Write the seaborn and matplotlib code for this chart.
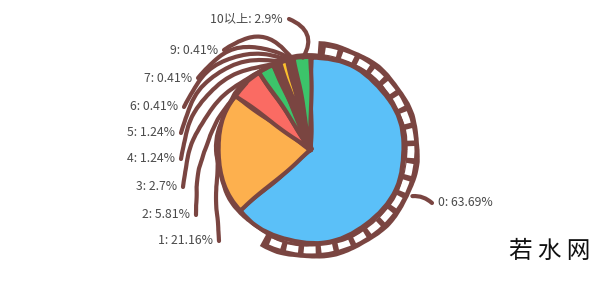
import numpy as np
import matplotlib
matplotlib.use("Agg")
import matplotlib.pyplot as plt
from matplotlib.patches import Arc
import seaborn as sns

categories = ["0", "1", "2", "3", "4", "5", "6", "7", "9", "10以上"]
values = [63.69, 21.16, 5.81, 2.7, 1.24, 1.24, 0.41, 0.41, 0.41, 2.9]
pct_labels = ["63.69%", "21.16%", "5.81%", "2.7%", "1.24%", "1.24%", "0.41%", "0.41%", "0.41%", "2.9%"]
colors = ["#5bc0f8", "#fdb04e", "#fa6b63", "#3cc46a", "#7a4541", "#fcc02d",
          "#7a4541", "#7a4541", "#7a4541", "#3cc46a"]

sns.set_theme(style="white")
plt.rcParams['font.family'] = ['Noto Sans CJK SC', 'DejaVu Sans']

BROWN = "#7a4541"
W, H = 600, 281
cx, cy, R = 311, 150, 93  # pixel center and radius
fig = plt.figure(figsize=(6, 2.81), dpi=100)
ax = fig.add_axes([0, 0, 1, 1])

def px(x, y):
    return ((x - cx) / R, (cy - y) / R)

# outer striped ring around the big slice
ring = Arc((0, 0), 2.19, 2.19, theta1=-118, theta2=86, lw=10, color=BROWN)
ring.set_sketch_params(scale=0.6, length=60, randomness=2)
ax.add_patch(ring)
ring2 = Arc((0, 0), 2.15, 2.15, theta1=-114, theta2=82, lw=5, color="white",
            linestyle=(0, (1.7, 0.8)))
ax.add_patch(ring2)

wedges, _ = ax.pie(values, colors=colors, startangle=90, counterclock=False,
                   radius=1.0, wedgeprops=dict(edgecolor=BROWN, linewidth=3,
                                               joinstyle="round"))
for w in wedges:
    w.set_sketch_params(scale=0.6, length=80, randomness=2)

# second sketchy outline
outline = Arc((0, 0), 2.04, 2.04, theta1=0, theta2=360, lw=2.2, color=BROWN)
outline.set_sketch_params(scale=0.8, length=80, randomness=3)
ax.add_patch(outline)

ax.set_xlim(-cx / R, (W - cx) / R)
ax.set_ylim(-(H - cy) / R, cy / R)
ax.set_aspect("equal")
ax.axis("off")

# label positions (pixel)
label_pos = {
    "0": (438, 203, "left"),
    "1": (213, 241, "right"),
    "2": (190, 215, "right"),
    "3": (177, 187, "right"),
    "4": (175, 159, "right"),
    "5": (175, 133, "right"),
    "6": (178, 107, "right"),
    "7": (192, 78, "right"),
    "9": (218, 50, "right"),
    "10以上": (283, 19, "right"),
}
rads = {"0": 0.2, "1": -0.05, "2": -0.22, "3": -0.3, "4": -0.4, "5": -0.45,
        "6": -0.45, "7": -0.45, "9": -0.5, "10以上": -0.6}

start = 90.0
for cat, val, pl in zip(categories, values, pct_labels):
    span = val / sum(values) * 360
    mid = np.deg2rad(start - span / 2)
    start -= span
    x, y, ha = label_pos[cat]
    tx, ty = px(x, y)
    lx = tx + (6 / R if ha == "right" else -6 / R)
    r0 = 1.0 if cat != "0" else 1.2
    xy = (r0 * np.cos(mid), r0 * np.sin(mid))
    ax.text(tx, ty, f"{cat}: {pl}", ha=ha, va="center", fontsize=8.8,
            color="#4a4a4a")
    ann = ax.annotate("", xy=xy, xytext=(lx, ty),
                      arrowprops=dict(arrowstyle="-", color=BROWN, lw=3,
                                      shrinkA=0, shrinkB=0,
                                      connectionstyle=f"arc3,rad={rads[cat]}"))
    ann.arrow_patch.set_sketch_params(scale=0.5, length=60, randomness=2)

ax.text(*px(550, 251), "若 水 网", ha="center", va="center", fontsize=17,
        color="#111111")

fig.savefig("out.png", dpi=100)
